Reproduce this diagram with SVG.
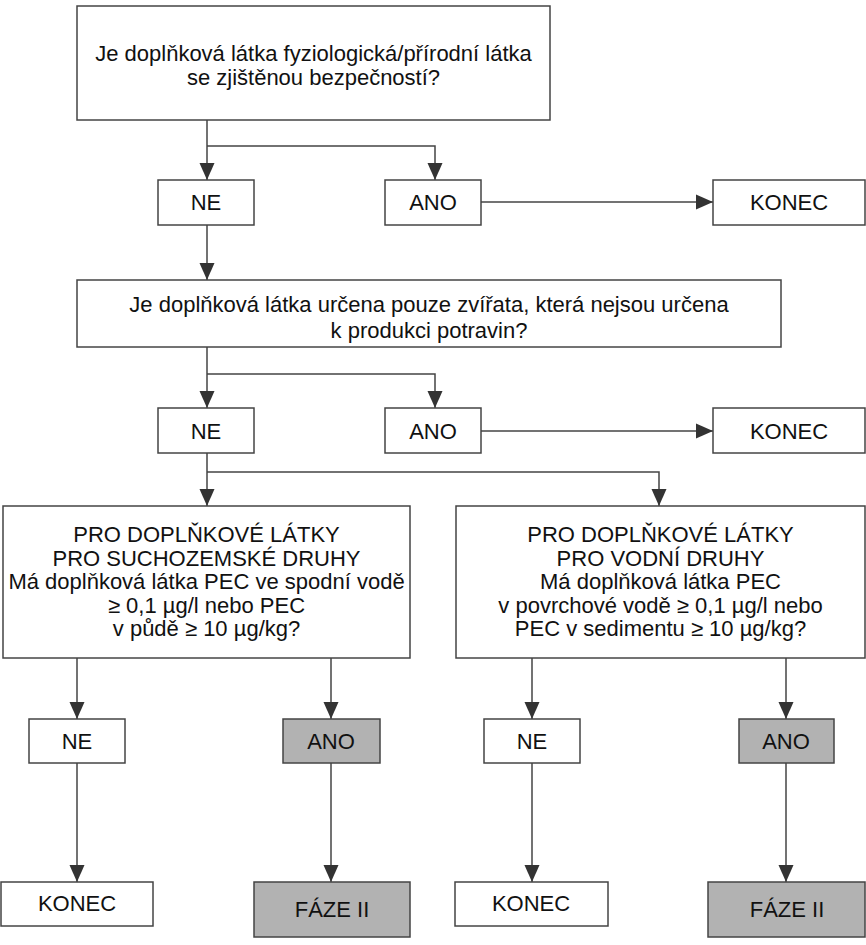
<svg xmlns="http://www.w3.org/2000/svg" width="866" height="945" viewBox="0 0 866 945">
<defs>
<marker id="ah" markerUnits="userSpaceOnUse" markerWidth="17" markerHeight="16" viewBox="0 0 17 15" refX="17" refY="7.5" orient="auto">
<path d="M0,0 L17,7.5 L0,15 Z" fill="#333"/>
</marker>
<style>
.box{fill:#fff;stroke:#444;stroke-width:1.5}
.gray{fill:#b2b2b2;stroke:#444;stroke-width:1.5}
text{font-family:"Liberation Sans",Arial,sans-serif;font-size:22px;fill:#111;text-anchor:middle}
.a{fill:none;stroke:#444;stroke-width:1.5;marker-end:url(#ah)}
</style>
</defs>
<rect width="866" height="945" fill="#fff"/>
<g id="connectors">
<path class="a" d="M207,120 V180"/>
<path class="a" d="M207,146 H435 V180"/>
<path class="a" d="M481,202 H713"/>
<path class="a" d="M207,225 V280"/>
<path class="a" d="M207,347 V408"/>
<path class="a" d="M207,374 H435 V408"/>
<path class="a" d="M481,431 H713"/>
<path class="a" d="M207,453 V506"/>
<path class="a" d="M207,472 H659 V506"/>
<path class="a" d="M77,658 V719"/>
<path class="a" d="M331,658 V719"/>
<path class="a" d="M532,658 V719"/>
<path class="a" d="M786,658 V719"/>
<path class="a" d="M77,763 V882"/>
<path class="a" d="M331,763 V882"/>
<path class="a" d="M532,763 V882"/>
<path class="a" d="M786,763 V882"/>
</g>
<g id="q1"><rect class="box" x="77" y="6" width="473" height="114"/>
<text x="313.5" y="61">Je doplňková látka fyziologická/přírodní látka</text>
<text x="313.5" y="85">se zjištěnou bezpečností?</text></g>
<g id="ne1"><rect class="box" x="158" y="180" width="96" height="45"/><text x="206" y="210">NE</text></g>
<g id="ano1"><rect class="box" x="385" y="180" width="96" height="45"/><text x="433" y="210">ANO</text></g>
<g id="konec1"><rect class="box" x="713" y="180" width="152" height="45"/><text x="789" y="210">KONEC</text></g>
<g id="q2"><rect class="box" x="77" y="280" width="704" height="67"/>
<text x="429" y="312">Je doplňková látka určena pouze zvířata, která nejsou určena</text>
<text x="429" y="338">k produkci potravin?</text></g>
<g id="ne2"><rect class="box" x="158" y="408" width="96" height="45"/><text x="206" y="439">NE</text></g>
<g id="ano2"><rect class="box" x="385" y="408" width="96" height="45"/><text x="433" y="439">ANO</text></g>
<g id="konec2"><rect class="box" x="713" y="408" width="152" height="45"/><text x="789" y="439">KONEC</text></g>
<g id="q3l"><rect class="box" x="3" y="506" width="407" height="152"/>
<text x="206.5" y="542">PRO DOPLŇKOVÉ LÁTKY</text>
<text x="206.5" y="565.5">PRO SUCHOZEMSKÉ DRUHY</text>
<text x="206.5" y="589">Má doplňková látka PEC ve spodní vodě</text>
<text x="206.5" y="612.5">≥ 0,1 µg/l nebo PEC</text>
<text x="206.5" y="636">v půdě ≥ 10 µg/kg?</text></g>
<g id="q3r"><rect class="box" x="456" y="506" width="409" height="152"/>
<text x="660.5" y="542">PRO DOPLŇKOVÉ LÁTKY</text>
<text x="660.5" y="565.5">PRO VODNÍ DRUHY</text>
<text x="660.5" y="589">Má doplňková látka PEC</text>
<text x="660.5" y="612.5">v povrchové vodě ≥ 0,1 µg/l nebo</text>
<text x="660.5" y="636">PEC v sedimentu ≥ 10 µg/kg?</text></g>
<g id="ne3l"><rect class="box" x="29" y="719" width="96" height="44"/><text x="77" y="749">NE</text></g>
<g id="ano3l"><rect class="gray" x="283" y="719" width="97" height="44"/><text x="331" y="749">ANO</text></g>
<g id="ne3r"><rect class="box" x="484" y="719" width="96" height="44"/><text x="532" y="749">NE</text></g>
<g id="ano3r"><rect class="gray" x="739" y="719" width="95" height="44"/><text x="786" y="749">ANO</text></g>
<g id="konec3l"><rect class="box" x="1" y="882" width="152" height="44"/><text x="77" y="911">KONEC</text></g>
<g id="faze3l"><rect class="gray" x="254" y="882" width="156" height="55"/><text x="332" y="917">FÁZE II</text></g>
<g id="konec3r"><rect class="box" x="455" y="882" width="153" height="44"/><text x="531" y="911">KONEC</text></g>
<g id="faze3r"><rect class="gray" x="708" y="882" width="157" height="55"/><text x="787" y="917">FÁZE II</text></g>
</svg>
